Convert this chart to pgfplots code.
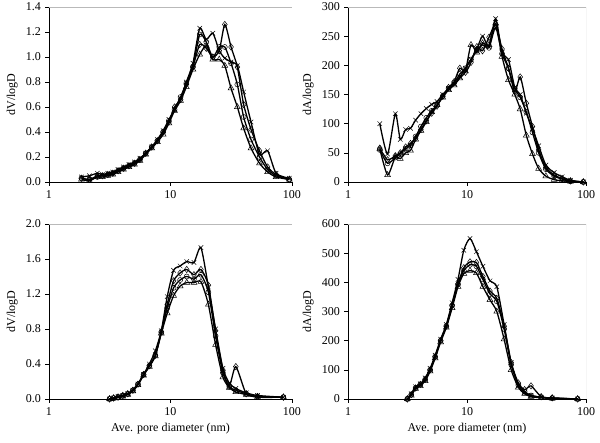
\documentclass[border=0pt]{standalone}
\usepackage{fontspec}
\setmainfont{Liberation Serif}
\usepackage{pgfplots}
\usepackage{pgfplotstable}
\pgfplotsset{compat=1.18}

% top-left: dV/logD
\pgfplotstableread{
D     X     Dm    C     T
1.85  0.04  0.03  0.03  0.02
2.15  0.05  0.02  0.02  0.01
2.5   0.07  0.05  0.04  0.04
2.75  0.06  0.05  0.05  0.04
3.05  0.07  0.06  0.06  0.05
3.35  0.08  0.07  0.07  0.06
3.7   0.10  0.09  0.09  0.08
4.1   0.12  0.11  0.11  0.10
4.55  0.14  0.13  0.13  0.12
5.05  0.16  0.15  0.15  0.14
5.6   0.19  0.18  0.18  0.17
6.25  0.23  0.23  0.23  0.22
7.0   0.28  0.28  0.28  0.27
7.8   0.34  0.33  0.33  0.32
8.7   0.41  0.40  0.40  0.38
9.7   0.50  0.48  0.49  0.47
10.8  0.58  0.60  0.58  0.57
12.1  0.67  0.66  0.68  0.65
13.5  0.80  0.78  0.79  0.76
15.3  0.95  0.92  0.92  0.90
17.4  1.23  1.10  1.18  1.02
19.7  1.14  1.07  1.12  1.09
22.3  1.19  1.00  1.00  0.98
25.2  1.05  1.05  1.08  0.98
28.0  0.99  1.26  1.08  0.93
31.5  0.96  1.08  0.95  0.75
35.5  0.93  0.92  0.78  0.60
40    0.72  0.62  0.52  0.43
46    0.48  0.42  0.34  0.27
54    0.22  0.25  0.20  0.15
63    0.25  0.12  0.10  0.08
74    0.07  0.06  0.05  0.04
95    0.03  0.02  0.02  0.02
}\tlA

% top-right: dA/logD
\pgfplotstableread{
D     X    Dm   C    T
1.85  100  58   55   57
2.15  48   38   32   12
2.5   117  45   42   43
2.75  73   50   48   40
3.05  90   60   57   50
3.35  92   66   63   54
3.7   106  75   78   73
4.1   117  90   95   88
4.55  126  105  110  103
5.05  133  118  122  120
5.6   138  130  132  132
6.25  150  147  147  145
7.0   160  162  160  158
7.8   168  172  170  166
8.7   180  195  185  178
9.7   195  188  195  190
10.8  210  205  210  235
12.1  228  232  225  222
13.5  250  225  235  238
15.3  232  248  230  235
17.4  280  270  265  272
19.7  222  228  220  215
22.3  210  195  195  175
25.2  162  155  160  150
28.0  150  180  145  125
31.5  118  135  120  80
35.5  92   95   85   48
40    62   55   50   23
46    29   25   22   10
54    16   12   10   4
63    9    6    5    2
74    3    2    1    1
95    0    0    0    0
}\trA

% bottom-left: dV/logD
\pgfplotstableread{
D     X     Dm    C     T
3.15  0.00  0.00  0.00  0.00
3.4   0.01  0.01  0.01  0.01
3.7   0.03  0.02  0.02  0.02
4.05  0.04  0.04  0.04  0.03
4.45  0.06  0.06  0.06  0.05
4.9   0.10  0.10  0.10  0.09
5.4   0.17  0.17  0.17  0.16
6.0   0.28  0.28  0.28  0.27
6.7   0.40  0.38  0.38  0.37
7.5   0.55  0.50  0.50  0.49
8.4   0.78  0.77  0.76  0.75
9.4   1.17  1.08  1.04  0.98
10.6  1.47  1.35  1.27  1.18
12.0  1.52  1.44  1.36  1.29
13.6  1.57  1.48  1.40  1.33
15.6  1.56  1.42  1.37  1.33
17.8  1.73  1.48  1.42  1.34
20.5  1.28  1.30  1.22  1.08
23.5  0.80  0.78  0.72  0.62
27.0  0.35  0.33  0.30  0.25
30.5  0.18  0.15  0.14  0.13
34.5  0.12  0.37  0.10  0.08
42    0.07  0.06  0.06  0.05
52    0.04  0.03  0.03  0.02
85    0.02  0.02  0.02  0.02
}\blA

% bottom-right: dA/logD
\pgfplotstableread{
D     X    Dm   C    T
3.15  0    0    0    0
3.4   18   15   15   12
3.7   42   38   38   35
4.05  52   50   50   45
4.45  72   68   66   62
4.9   105  100  100  95
5.4   150  145  145  140
6.0   205  200  200  195
6.7   255  250  250  245
7.5   330  322  320  312
8.4   410  395  392  385
9.4   510  450  440  430
10.6  550  470  460  440
12.0  505  468  455  432
13.6  455  420  410  385
15.6  405  370  360  340
17.8  385  345  335  300
20.5  255  250  240  205
23.5  125  125  118  100
27.0  45   55   48   40
30.5  22   32   25   18
34.5  12   45   12   8
42    6    8    6    4
52    3    4    3    2
85    0    0    0    0
}\brA

\pgfplotsset{
  every axis/.append style={
    scale only axis, height=175pt,
    xmin=1, xmax=100,
    xtick={1,10,100},
    ymin=0,
    axis lines*=left,
    axis line style={-, black, line width=0.6pt},
    tick align=outside, major tick length=4pt,
    tick style={black, line width=0.6pt},
    /pgf/number format/assume math mode=true,
    tick label style={font=\fontsize{12}{14}\selectfont},
    label style={font=\fontsize{12}{14}\selectfont},
  },
  every axis plot/.append style={black, line width=1.3pt, smooth, tension=0.4,
      mark options={solid, line width=0.5pt, fill=none}},
}

\newcommand{\fourplots}[1]{%
  \addplot[mark=x, mark size=3.2pt] table[x=D, y=X] {#1};
  \addplot[mark=diamond, mark size=3.2pt] table[x=D, y=Dm] {#1};
  \addplot[mark=o, mark size=2.5pt] table[x=D, y=C] {#1};
  \addplot[mark=triangle, mark size=3.4pt] table[x=D, y=T] {#1};
  \draw[gray!55, line width=0.7pt] (rel axis cs:0,1) -- (rel axis cs:1,1) -- (rel axis cs:1,0);
}

\begin{document}
\fontsize{12}{14}\selectfont
\begin{tikzpicture}
\path[use as bounding box] (0,0) rectangle (600pt,443pt);

\begin{semilogxaxis}[at={(49pt,261pt)}, anchor=south west, width=243pt,
  log ticks with fixed point, xminorticks=false,
  yticklabel style={/pgf/number format/.cd, fixed, fixed zerofill, precision=1},
  ymax=1.4, ytick={0,0.2,...,1.4}, ylabel={dV/logD}]
\fourplots{\tlA}
\end{semilogxaxis}

\begin{semilogxaxis}[at={(348pt,261pt)}, anchor=south west, width=238pt,
  log ticks with fixed point, xminorticks=false,
  ymax=300, ytick={0,50,...,300}, ylabel={dA/logD}]
\fourplots{\trA}
\end{semilogxaxis}

\begin{semilogxaxis}[at={(49pt,44pt)}, anchor=south west, width=243pt,
  log ticks with fixed point, xminorticks=false,
  yticklabel style={/pgf/number format/.cd, fixed, fixed zerofill, precision=1},
  ymax=2.0, ytick={0,0.4,...,2.0}, ylabel={dV/logD}, xlabel={Ave. pore diameter (nm)}]
\fourplots{\blA}
\end{semilogxaxis}

\begin{semilogxaxis}[at={(348pt,44pt)}, anchor=south west, width=238pt,
  log ticks with fixed point, xminorticks=false,
  ymax=600, ytick={0,100,...,600}, ylabel={dA/logD}, xlabel={Ave. pore diameter (nm)}]
\fourplots{\brA}
\end{semilogxaxis}
\end{tikzpicture}
\end{document}
